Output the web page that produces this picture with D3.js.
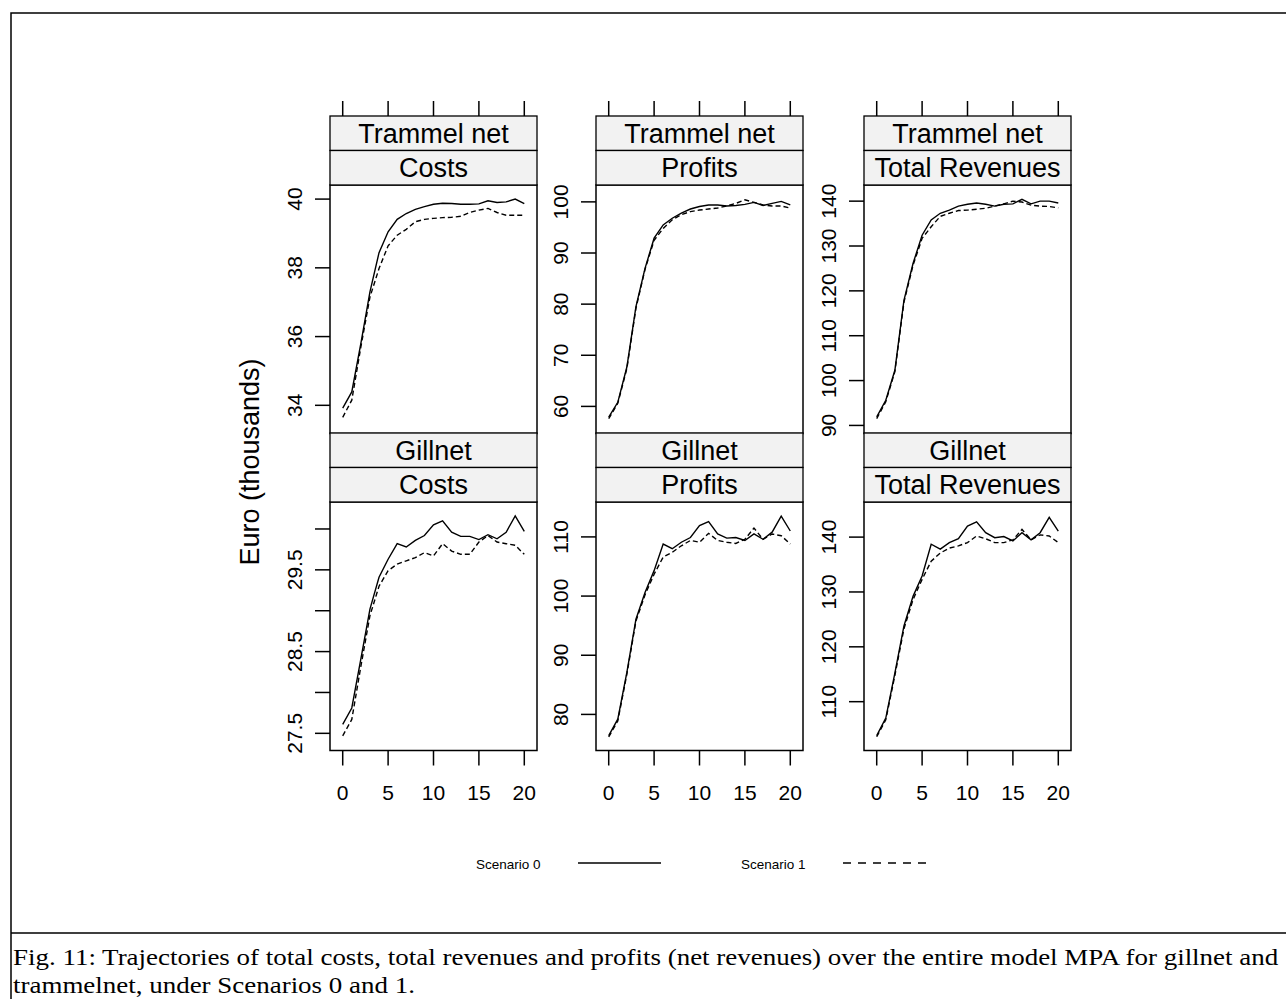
<!DOCTYPE html>
<html>
<head>
<meta charset="utf-8">
<script src="https://cdn.jsdelivr.net/npm/d3@7"></script>
<style>
  body { margin: 0; background: #fff; }
  text { font-family: "Liberation Sans", Arial, sans-serif; fill: #000; }
  .caption { font-family: "Liberation Serif", "Times New Roman", serif; }
</style>
</head>
<body>
<script>
var width = 1286,
    height = 999;

// data
var years = [0, 1, 2, 3, 4, 5, 6, 7, 8, 9, 10, 11, 12, 13, 14, 15, 16, 17, 18, 19, 20];
var xTicks = [0, 5, 10, 15, 20];

var trammelCosts0 = [33.92, 34.39, 35.8, 37.3, 38.44, 39.05, 39.41, 39.58, 39.70, 39.78, 39.85, 39.88, 39.87, 39.85, 39.85, 39.86, 39.95, 39.90, 39.92, 40.0, 39.87];
var trammelCosts1 = [33.65, 34.15, 35.7, 37.15, 37.98, 38.64, 38.95, 39.12, 39.34, 39.41, 39.44, 39.46, 39.47, 39.50, 39.61, 39.68, 39.73, 39.61, 39.53, 39.53, 39.53];
var trammelProfits0 = [57.9, 60.8, 67.7, 79.5, 87.0, 92.9, 95.5, 96.8, 97.8, 98.6, 99.1, 99.4, 99.4, 99.2, 99.3, 99.5, 99.9, 99.3, 99.7, 100.1, 99.4];
var trammelProfits1 = [57.6, 60.6, 67.4, 79.2, 86.8, 92.5, 94.8, 96.5, 97.5, 98.1, 98.4, 98.6, 98.8, 99.2, 99.7, 100.4, 99.9, 99.4, 99.2, 99.2, 98.8];
var trammelRevenues0 = [91.9, 95.6, 102.3, 117.9, 126.1, 132.4, 135.8, 137.3, 138.0, 138.9, 139.3, 139.6, 139.3, 138.9, 139.3, 139.4, 140.4, 139.4, 140.0, 140.0, 139.6];
var trammelRevenues1 = [91.5, 95.3, 102.0, 117.5, 125.7, 131.7, 134.3, 136.6, 137.3, 137.9, 138.0, 138.2, 138.4, 138.9, 139.4, 140.0, 139.8, 139.1, 138.9, 138.8, 138.5];
var gillnetCosts0 = [27.61, 27.81, 28.41, 29.02, 29.41, 29.63, 29.82, 29.78, 29.86, 29.92, 30.05, 30.10, 29.96, 29.91, 29.91, 29.87, 29.93, 29.88, 29.96, 30.16, 29.97];
var gillnetCosts1 = [27.47, 27.67, 28.32, 28.94, 29.30, 29.49, 29.57, 29.61, 29.65, 29.71, 29.67, 29.82, 29.73, 29.69, 29.69, 29.84, 29.92, 29.84, 29.82, 29.80, 29.69];
var gillnetProfits0 = [76.4, 79.2, 87.1, 96.1, 100.6, 104.3, 108.8, 108.0, 109.1, 109.9, 111.9, 112.6, 110.5, 109.8, 109.9, 109.4, 110.5, 109.6, 110.8, 113.5, 111.0];
var gillnetProfits1 = [76.2, 78.9, 86.8, 95.8, 100.2, 103.7, 106.6, 107.4, 108.5, 109.4, 109.1, 110.6, 109.4, 109.1, 108.9, 109.6, 111.5, 109.6, 110.5, 110.2, 108.8];
var gillnetRevenues0 = [103.8, 107.0, 115.2, 123.8, 129.2, 132.9, 138.7, 137.8, 139.0, 139.7, 142.0, 142.8, 140.8, 139.9, 140.1, 139.3, 140.8, 139.5, 140.8, 143.6, 141.1];
var gillnetRevenues1 = [103.6, 106.7, 114.8, 123.3, 128.6, 132.3, 135.6, 137.1, 138.0, 138.4, 139.0, 140.2, 139.7, 139.0, 139.0, 139.5, 141.4, 139.5, 140.4, 140.2, 139.0];

var gearLabels = ["Trammel net", "Gillnet"];
var measureLabels = ["Costs", "Profits", "Total Revenues"];
var scenarioLabels = ["Scenario 0", "Scenario 1"];
var yTitle = "Euro (thousands)";
var captionLines = [
    "Fig. 11: Trajectories of total costs, total revenues and profits (net revenues) over the entire model MPA for gillnet and",
    "trammelnet, under Scenarios 0 and 1."
];
// end data

// panel table: row 0 = trammel net, row 1 = gillnet
var panels = [
    {row: 0, col: 0, s0: trammelCosts0, s1: trammelCosts1, domain: [33.18, 40.41], ticks: [34, 36, 38, 40], labels: ["34", "36", "38", "40"]},
    {row: 0, col: 1, s0: trammelProfits0, s1: trammelProfits1, domain: [54.7, 103.3], ticks: [60, 70, 80, 90, 100], labels: ["60", "70", "80", "90", "100"]},
    {row: 0, col: 2, s0: trammelRevenues0, s1: trammelRevenues1, domain: [88.2, 143.6], ticks: [90, 100, 110, 120, 130, 140], labels: ["90", "100", "110", "120", "130", "140"]},
    {row: 1, col: 0, s0: gillnetCosts0, s1: gillnetCosts1, domain: [27.29, 30.33], ticks: [27.5, 28, 28.5, 29, 29.5, 30], labels: ["27.5", "", "28.5", "", "29.5", ""]},
    {row: 1, col: 1, s0: gillnetProfits0, s1: gillnetProfits1, domain: [73.9, 115.9], ticks: [80, 90, 100, 110], labels: ["80", "90", "100", "110"]},
    {row: 1, col: 2, s0: gillnetRevenues0, s1: gillnetRevenues1, domain: [101.1, 146.4], ticks: [110, 120, 130, 140], labels: ["110", "120", "130", "140"]}
];

// layout
var colLeft = [330, 596, 864],
    panelW = 207,
    stripH = 34.5,
    rowTop = [116, 433],
    panelH = 248.5;

var svg = d3.select("body").append("svg")
    .attr("width", width)
    .attr("height", height);

// frame
svg.append("path")
    .attr("d", "M11,999 V13 H1290 M11,933 H1290")
    .attr("fill", "none")
    .attr("stroke", "#000")
    .attr("stroke-width", 1.5);

var xRange = d3.scaleLinear().domain([-1.4, 21.4]).range([0, panelW]);

var line1Dash = "5,3";

panels.forEach(function(p) {
    var x0 = colLeft[p.col],
        top = rowTop[p.row],
        pTop = top + 2 * stripH;

    var yRange = d3.scaleLinear().domain(p.domain).range([panelH, 0]);
    var g = svg.append("g").attr("transform", "translate(" + x0 + "," + pTop + ")");

    // strips
    [gearLabels[p.row], measureLabels[p.col]].forEach(function(lab, i) {
        var sy = top + i * stripH;
        svg.append("rect")
            .attr("x", x0).attr("y", sy)
            .attr("width", panelW).attr("height", stripH)
            .attr("fill", "#f2f2f2")
            .attr("stroke", "#000")
            .attr("stroke-width", 1.3);
        svg.append("text")
            .attr("x", x0 + panelW / 2)
            .attr("y", sy + stripH / 2 + 9.5)
            .attr("text-anchor", "middle")
            .style("font-size", "27px")
            .text(lab);
    });

    // lines
    var line = d3.line()
        .x(function(d, i) { return xRange(years[i]); })
        .y(function(d) { return yRange(d); });

    g.append("path")
        .attr("d", line(p.s1))
        .attr("fill", "none")
        .attr("stroke", "#000")
        .attr("stroke-width", 1.4)
        .attr("stroke-dasharray", line1Dash);
    g.append("path")
        .attr("d", line(p.s0))
        .attr("fill", "none")
        .attr("stroke", "#000")
        .attr("stroke-width", 1.4);

    // panel box
    g.append("rect")
        .attr("width", panelW).attr("height", panelH)
        .attr("fill", "none")
        .attr("stroke", "#000")
        .attr("stroke-width", 1.5);

    // y axis
    var yAxis = g.append("g");
    p.ticks.forEach(function(t, i) {
        yAxis.append("line")
            .attr("x1", -15).attr("x2", 0)
            .attr("y1", yRange(t)).attr("y2", yRange(t))
            .attr("stroke", "#000").attr("stroke-width", 1.5);
        if (p.labels[i]) {
            yAxis.append("text")
                .attr("transform", "translate(-28," + yRange(t) + ") rotate(-90)")
                .attr("text-anchor", "middle")
                .style("font-size", "21px")
                .text(p.labels[i]);
        }
    });

    // x axis ticks: on top of top row, on bottom of bottom row
    xTicks.forEach(function(t) {
        if (p.row === 0) {
            svg.append("line")
                .attr("x1", x0 + xRange(t)).attr("x2", x0 + xRange(t))
                .attr("y1", top - 15).attr("y2", top)
                .attr("stroke", "#000").attr("stroke-width", 1.5);
        } else {
            g.append("line")
                .attr("x1", xRange(t)).attr("x2", xRange(t))
                .attr("y1", panelH).attr("y2", panelH + 15)
                .attr("stroke", "#000").attr("stroke-width", 1.5);
            g.append("text")
                .attr("x", xRange(t))
                .attr("y", panelH + 49)
                .attr("text-anchor", "middle")
                .style("font-size", "21px")
                .text(t);
        }
    });
});

// y title
svg.append("text")
    .attr("transform", "translate(259,462) rotate(-90)")
    .attr("text-anchor", "middle")
    .style("font-size", "27px")
    .text(yTitle);

// legend
var legendX = [476, 741];
scenarioLabels.forEach(function(lab, i) {
    svg.append("text")
        .attr("x", legendX[i])
        .attr("y", 869)
        .style("font-size", "13.5px")
        .text(lab);
    svg.append("line")
        .attr("x1", legendX[i] + 102).attr("x2", legendX[i] + 185)
        .attr("y1", 863).attr("y2", 863)
        .attr("stroke", "#000")
        .attr("stroke-width", 1.5)
        .attr("stroke-dasharray", i === 0 ? null : "8,7");
});

// caption, stretched so the first line nearly reaches the right edge like the source
var capG = svg.append("g");
var capTexts = captionLines.map(function(c, i) {
    return capG.append("text")
        .attr("class", "caption")
        .attr("x", 0)
        .attr("y", 965 + i * 28)
        .style("font-size", "23px")
        .text(c);
});
var capW = capTexts[0].node().getComputedTextLength();
var sx = capW > 0 ? 1266 / capW : 1;
capG.attr("transform", "translate(13,0) scale(" + sx + ",1)");
</script>
</body>
</html>
